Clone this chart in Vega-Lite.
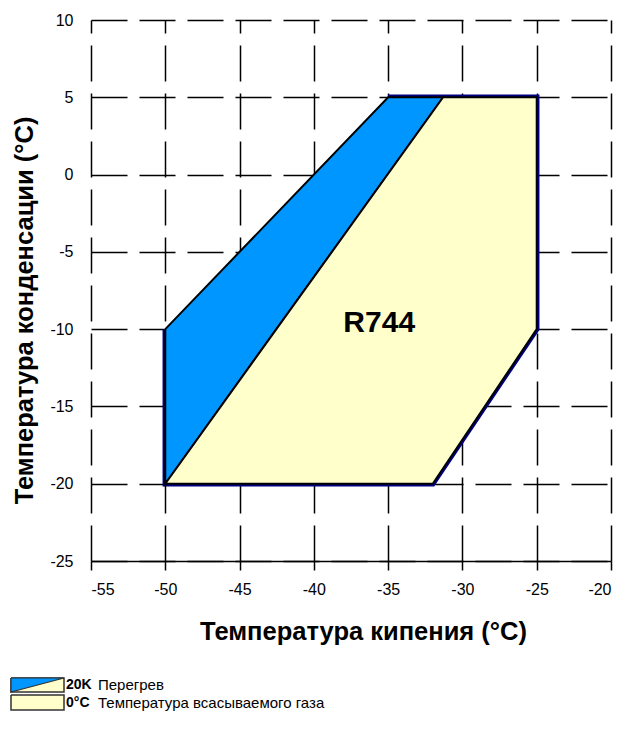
{
  "$schema": "https://vega.github.io/schema/vega-lite/v6.json",
  "padding": {"left": 8, "top": 12, "right": 5, "bottom": 5},
  "config": {"view": {"stroke": null}, "font": "Liberation Sans", "concat": {"spacing": 30}},
  "background": "white",
  "vconcat": [
    {
      "width": 520,
      "height": 541,
      "data": {"values": [
        {"shape": "outline", "i": 0, "x": -35, "y": 5},
        {"shape": "outline", "i": 1, "x": -25, "y": 5},
        {"shape": "outline", "i": 2, "x": -25, "y": -10},
        {"shape": "outline", "i": 3, "x": -32, "y": -20},
        {"shape": "outline", "i": 4, "x": -50, "y": -20},
        {"shape": "outline", "i": 5, "x": -50, "y": -10},
        {"shape": "blue", "i": 0, "x": -50, "y": -10},
        {"shape": "blue", "i": 1, "x": -35, "y": 5},
        {"shape": "blue", "i": 2, "x": -31.3, "y": 5},
        {"shape": "blue", "i": 3, "x": -50, "y": -20},
        {"shape": "blue", "i": 4, "x": -50, "y": -10},
        {"shape": "yellow", "i": 0, "x": -50, "y": -20},
        {"shape": "yellow", "i": 1, "x": -31.3, "y": 5},
        {"shape": "yellow", "i": 2, "x": -25, "y": 5},
        {"shape": "yellow", "i": 3, "x": -25, "y": -10},
        {"shape": "yellow", "i": 4, "x": -32, "y": -20},
        {"shape": "yellow", "i": 5, "x": -50, "y": -20},
        {"shape": "label", "i": 0, "x": -35.6, "y": -9.6, "text": "R744"}
      ]},
      "encoding": {
        "x": {
          "field": "x", "type": "quantitative",
          "scale": {"domain": [-55, -20], "nice": false, "zero": false},
          "axis": {
            "values": [-55, -50, -45, -40, -35, -30, -25, -20],
            "labelExpr": "'' + datum.value",
            "title": "Температура кипения (°C)",
            "titleFontSize": 25.5, "titleFontWeight": "bold", "titleColor": "black",
            "titlePadding": 22, "titleX": 272,
            "labelFontSize": 16, "labelColor": "black", "labelPadding": 11,
            "domainColor": "black", "domainWidth": 1.5,
            "tickColor": "black", "tickWidth": 1.5, "tickSize": 9,
            "grid": true, "gridColor": "black", "gridOpacity": 1, "gridWidth": 1.5,
            "gridDash": [36, 12], "gridDashOffset": 23
          }
        },
        "y": {
          "field": "y", "type": "quantitative",
          "scale": {"domain": [-25, 10], "nice": false, "zero": false},
          "axis": {
            "values": [-25, -20, -15, -10, -5, 0, 5, 10],
            "labelExpr": "'' + datum.value",
            "title": "Температура конденсации (°C)",
            "titleFontSize": 25.5, "titleFontWeight": "bold", "titleColor": "black",
            "titlePadding": 12, "titleY": 290,
            "labelFontSize": 16, "labelColor": "black", "labelPadding": 18,
            "domain": false, "ticks": false,
            "grid": true, "gridColor": "black", "gridOpacity": 1, "gridWidth": 1.5,
            "gridDash": [36, 12]
          }
        }
      },
      "layer": [
        {
          "transform": [{"filter": "datum.shape === 'outline'"}],
          "mark": {"type": "line", "stroke": "#000080", "strokeWidth": 5.5, "strokeJoin": "miter"},
          "encoding": {"order": {"field": "i", "type": "quantitative"}}
        },
        {
          "transform": [{"filter": "datum.shape === 'blue'"}],
          "mark": {"type": "line", "fill": "#0096ff", "stroke": "black", "strokeWidth": 2},
          "encoding": {"order": {"field": "i", "type": "quantitative"}}
        },
        {
          "transform": [{"filter": "datum.shape === 'yellow'"}],
          "mark": {"type": "line", "fill": "#ffffcc", "stroke": "black", "strokeWidth": 2},
          "encoding": {"order": {"field": "i", "type": "quantitative"}}
        },
        {
          "transform": [{"filter": "datum.shape === 'label'"}],
          "mark": {"type": "text", "fontSize": 30, "fontWeight": "bold", "color": "black", "align": "center", "baseline": "middle"},
          "encoding": {"text": {"field": "text"}}
        }
      ]
    },
    {
      "width": 520,
      "height": 36,
      "data": {"values": [
        {"shape": "sw1", "i": 0, "x": -80, "y": 2},
        {"shape": "sw1", "i": 1, "x": -27, "y": 2},
        {"shape": "sw1", "i": 2, "x": -27, "y": 16},
        {"shape": "sw1", "i": 3, "x": -80, "y": 16},
        {"shape": "sw1", "i": 4, "x": -80, "y": 2},
        {"shape": "tri", "i": 0, "x": -80, "y": 2},
        {"shape": "tri", "i": 1, "x": -27, "y": 2},
        {"shape": "tri", "i": 2, "x": -80, "y": 16},
        {"shape": "tri", "i": 3, "x": -80, "y": 2},
        {"shape": "sw2", "i": 0, "x": -80, "y": 19},
        {"shape": "sw2", "i": 1, "x": -27, "y": 19},
        {"shape": "sw2", "i": 2, "x": -27, "y": 34},
        {"shape": "sw2", "i": 3, "x": -80, "y": 34},
        {"shape": "sw2", "i": 4, "x": -80, "y": 19},
        {"shape": "bold", "i": 0, "x": -25, "y": 9, "text": "20K"},
        {"shape": "bold", "i": 1, "x": -25, "y": 27, "text": "0°C"},
        {"shape": "plain", "i": 0, "x": 7, "y": 9, "text": "Перегрев"},
        {"shape": "plain", "i": 1, "x": 7, "y": 27, "text": "Температура всасываемого газа"}
      ]},
      "encoding": {
        "x": {"field": "x", "type": "quantitative", "scale": {"domain": [0, 520], "nice": false, "zero": false}, "axis": null},
        "y": {"field": "y", "type": "quantitative", "scale": {"domain": [0, 36], "nice": false, "zero": false, "reverse": true}, "axis": null}
      },
      "layer": [
        {
          "transform": [{"filter": "datum.shape === 'sw1'"}],
          "mark": {"type": "line", "fill": "#ffffcc", "stroke": "#333333", "strokeWidth": 1.5},
          "encoding": {"order": {"field": "i", "type": "quantitative"}}
        },
        {
          "transform": [{"filter": "datum.shape === 'tri'"}],
          "mark": {"type": "line", "fill": "#0096ff", "stroke": "#333333", "strokeWidth": 1.2},
          "encoding": {"order": {"field": "i", "type": "quantitative"}}
        },
        {
          "transform": [{"filter": "datum.shape === 'sw2'"}],
          "mark": {"type": "line", "fill": "#ffffcc", "stroke": "#333333", "strokeWidth": 1.5},
          "encoding": {"order": {"field": "i", "type": "quantitative"}}
        },
        {
          "transform": [{"filter": "datum.shape === 'bold'"}],
          "mark": {"type": "text", "fontSize": 14, "fontWeight": "bold", "color": "black", "align": "left", "baseline": "middle"},
          "encoding": {"text": {"field": "text"}}
        },
        {
          "transform": [{"filter": "datum.shape === 'plain'"}],
          "mark": {"type": "text", "fontSize": 15, "color": "black", "align": "left", "baseline": "middle"},
          "encoding": {"text": {"field": "text"}}
        }
      ]
    }
  ]
}
